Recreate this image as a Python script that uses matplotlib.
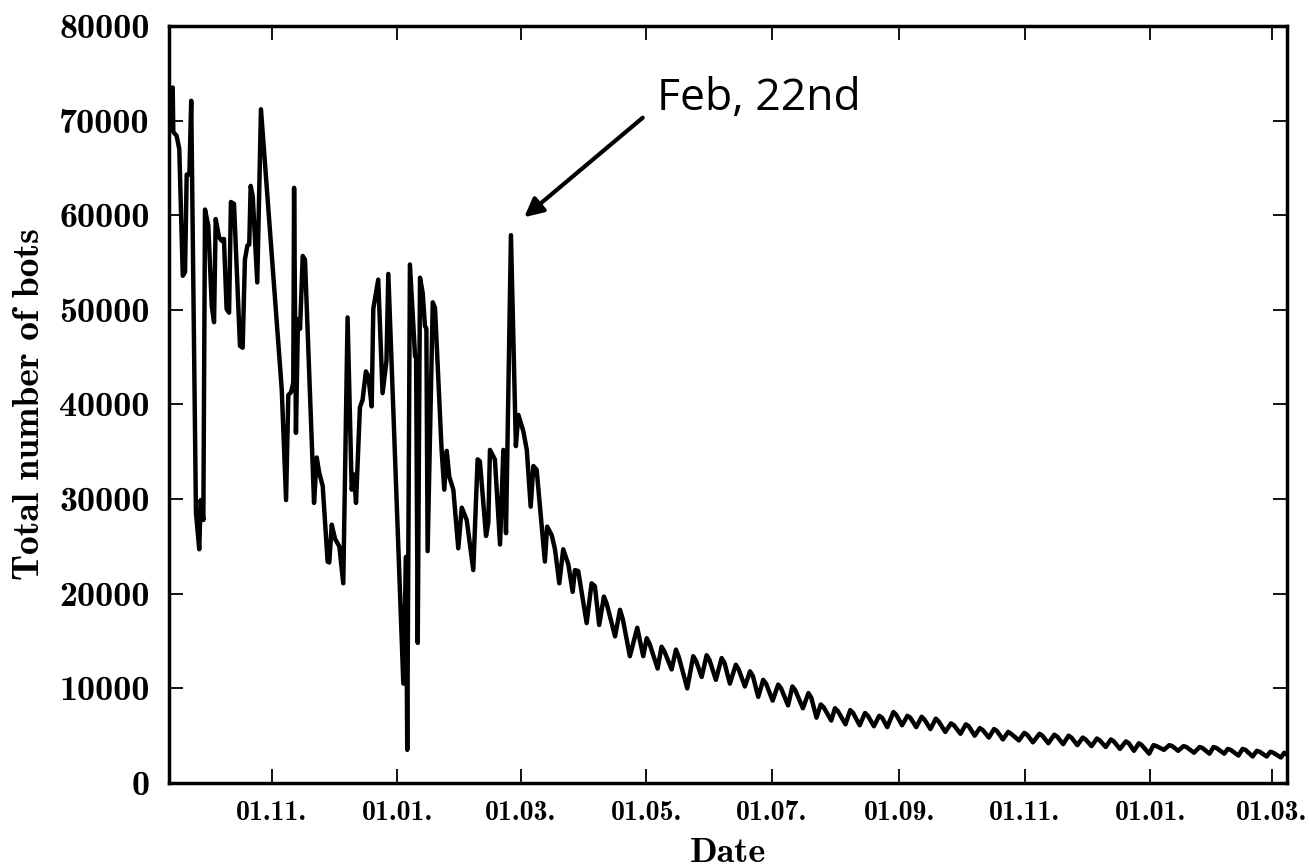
import matplotlib
matplotlib.use("Agg")
import matplotlib.pyplot as plt
import matplotlib.dates as mdates
import pandas as pd

# day offsets from 12 Sep 2011 and total bot counts
start = pd.Timestamp("2011-09-12")
day = [0.5, 1.8, 2.1, 3.7, 5.0, 6.7, 7.8, 8.6, 9.9, 10.8,
       13.1, 14.7, 15.4, 16.7, 17.5, 19.1, 20.8, 21.9, 22.7, 24.3,
       25.6, 26.7, 28.0, 29.2, 30.1, 31.6, 34.5, 35.8, 36.9, 38.1,
       39.0, 39.7, 40.7, 42.9, 44.7, 54.8, 56.9, 58.0, 59.3, 60.4,
       60.8, 61.7, 62.7, 63.7, 65.0, 66.1, 70.5, 71.8, 73.0, 74.7,
       77.1, 77.9, 79.1, 80.7, 82.8, 84.7, 86.8, 88.8, 89.9, 90.9,
       92.8, 94.1, 95.7, 96.9, 98.5, 99.3, 101.7, 103.8, 105.7, 106.6,
       113.9, 115.2, 115.8, 117.1, 119.6, 120.1, 120.9, 122.0, 123.3, 124.4,
       125.1, 125.7, 128.2, 129.3, 132.5, 133.8, 135.0, 136.2, 138.2, 140.6,
       142.3, 144.7, 147.9, 150.0, 151.1, 154.1, 155.2, 156.0, 158.4, 160.9,
       162.5, 163.8, 166.2, 168.6, 169.8, 172.2, 173.9, 175.8, 177.1, 178.7,
       180.7, 182.7, 183.8, 186.0, 187.6, 189.7, 191.6, 194.1, 196.2, 197.3,
       198.9, 203.0, 205.4, 207.0, 209.1, 211.4, 216.8, 219.2, 224.0, 227.6,
       230.5, 232.2, 237.5, 239.4, 244.3, 246.4, 251.9, 254.8, 258.9, 261.3,
       265.8, 268.6, 272.6, 275.5, 279.9, 282.4, 286.4, 288.8, 293.4, 296.1,
       300.9, 303.0, 308.1, 310.8, 314.7, 316.8, 321.9, 323.7, 328.8, 331.1,
       335.7, 338.3, 342.6, 345.2, 349.1, 352.1, 356.3, 358.9, 363.2, 365.8,
       370.1, 372.7, 377.3, 380.1, 384.7, 387.3, 391.6, 394.1, 398.5, 401.0,
       405.3, 407.9, 413.1, 415.7, 419.9, 423.1, 427.4, 430.3, 434.6, 437.2,
       441.5, 444.1, 448.4, 451.0, 455.3, 457.8, 462.2, 465.1, 469.0, 471.4,
       476.4, 478.5, 483.6, 486.2, 490.5, 493.1, 498.2, 500.9, 505.7, 507.7,
       512.9, 514.6, 519.8, 521.8, 526.7, 528.7, 533.5, 535.3, 540.4, 542.1,
       543.4]
bots = [73300, 73500, 68800, 68400, 67000, 53600, 54000, 64300, 64300, 72100,
        28600, 24700, 29900, 27800, 60600, 58900, 50400, 48700, 59600, 57700,
        57300, 57500, 50100, 49700, 61400, 61200, 46200, 46000, 55300, 56800,
        56900, 63100, 62000, 52900, 71200, 41600, 29900, 41000, 41300, 42300,
        62900, 37000, 49000, 48000, 55700, 55300, 29600, 34400, 32800, 31400,
        23400, 23300, 27300, 25800, 25000, 21100, 49200, 31000, 32600, 29600,
        39700, 40500, 43500, 43000, 39800, 50100, 53200, 41200, 44600, 53800,
        10500, 23900, 3500, 54800, 45100, 45000, 14800, 53400, 51800, 48300,
        48000, 24500, 50800, 50200, 35200, 31000, 35100, 32400, 31000, 24800,
        29100, 27800, 22500, 34200, 34000, 26100, 27500, 35200, 34200, 25200,
        35200, 26400, 57900, 35600, 38900, 37200, 35200, 29200, 33500, 33100,
        28200, 23400, 27100, 26200, 24700, 21100, 24700, 23100, 20200, 22500,
        22400, 16900, 21100, 20800, 16700, 19700, 15500, 18300, 13400, 16400,
        13400, 15300, 12100, 14400, 12000, 14100, 10000, 13400, 11200, 13500,
        10900, 13200, 10500, 12500, 10200, 11800, 9100, 10900, 8700, 10400,
        8200, 10200, 7900, 9500, 6900, 8300, 6600, 7900, 6200, 7700,
        6100, 7400, 6000, 7100, 5900, 7500, 6100, 7100, 5900, 7000,
        5700, 6800, 5400, 6300, 5200, 6200, 5000, 5800, 4800, 5700,
        4600, 5400, 4500, 5300, 4300, 5200, 4200, 5100, 4100, 5000,
        4000, 4800, 3900, 4700, 3800, 4600, 3600, 4400, 3400, 4200,
        3100, 4000, 3500, 4000, 3400, 3900, 3200, 3800, 3100, 3800,
        3100, 3600, 2900, 3600, 2800, 3400, 2800, 3300, 2700, 3200,
        3000]

# rounded tops of the weekly cycles in the decay phase
shoulder_day = [212.8, 220.6, 233.6, 240.8, 247.8, 256.2, 262.7, 270.0, 276.9, 283.8,
                290.2, 297.5, 304.4, 312.2, 318.2, 325.1, 332.5, 339.7, 346.6, 353.5,
                360.3, 367.2, 374.1, 381.5, 388.7, 395.5, 402.4, 409.3, 417.1, 424.5,
                431.7, 438.6, 445.5, 452.4, 459.2, 466.5, 472.8, 479.9, 487.6, 494.5,
                502.3, 509.1, 516.0, 523.2, 530.1, 536.7]
shoulder_bots = [18900, 17300, 14700, 13900, 13300, 12900, 13000, 12700, 12000, 11300,
                 10500, 10000, 9800, 9000, 8000, 7600, 7400, 7100, 6900, 7200,
                 6900, 6700, 6500, 6100, 6000, 5600, 5500, 5200, 5100, 5000,
                 4900, 4800, 4600, 4500, 4400, 4200, 4000, 3900, 3900, 3800,
                 3700, 3700, 3500, 3500, 3300, 3200]
yticks = [0, 10000, 20000, 30000, 40000, 50000, 60000, 70000, 80000]

series = pd.Series(bots + shoulder_bots, index=day + shoulder_day).sort_index()
dates = start + pd.to_timedelta(series.index, unit="D")

fig = plt.figure(figsize=(13.09, 8.67), dpi=100)
ax = fig.add_axes([0.1291, 0.0969, 0.8541, 0.8731])

ax.plot(dates, series.values, color="black", lw=3.2)

ax.set_xlim(start, start + pd.Timedelta(days=543.4))
ax.set_ylim(0, 80000)
ax.set_yticks(yticks)
ax.set_yticklabels([str(v) for v in yticks], fontfamily="cmb10", fontsize=26)

ax.xaxis.set_major_locator(mdates.MonthLocator(bymonth=[1, 3, 5, 7, 9, 11]))
ax.xaxis.set_major_formatter(mdates.DateFormatter("%d.%m."))
for lab in ax.get_xticklabels():
    lab.set_fontfamily("cmb10")
    lab.set_fontsize(20)

ax.tick_params(direction="in", top=True, right=True, length=10, width=1.3)
ax.tick_params(axis="x", pad=12)
ax.tick_params(axis="y", pad=14)
for sp in ax.spines.values():
    sp.set_linewidth(2.5)

ax.set_xlabel("Date", fontfamily="cmb10", fontsize=26, labelpad=9)
ax.set_ylabel("Total number of bots", fontfamily="cmb10", fontsize=27, labelpad=9)

# annotation of the February spike
tip = (start + pd.Timedelta(days=171.6), 59600)
tail = (start + pd.Timedelta(days=231.3), 70500)
ax.annotate("", xy=tip, xytext=tail,
            arrowprops=dict(arrowstyle="-|>", color="black", lw=3, mutation_scale=28))
ax.text(start + pd.Timedelta(days=237.2), 72300, "Feb, 22nd",
        fontfamily="Open Sans", fontsize=32, va="center", ha="left")

fig.savefig("out.png", dpi=100)
